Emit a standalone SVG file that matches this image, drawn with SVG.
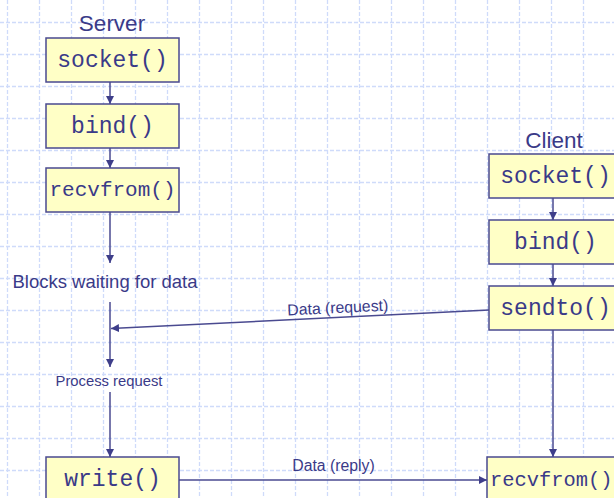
<svg xmlns="http://www.w3.org/2000/svg" width="614" height="498" viewBox="0 0 614 498">
  <style>
    .grid line { stroke: #cfdbfa; stroke-width: 1.3; stroke-dasharray: 4 2; }
    .box { fill: #ffffc6; stroke: #4a4a90; stroke-width: 1.5; }
    .code { font-family: "Liberation Mono", "Courier New", monospace; font-size: 23px; fill: #3a3a88; text-anchor: middle; }
    .title { font-family: "Liberation Sans", Arial, sans-serif; font-size: 22.5px; fill: #3a3a88; text-anchor: middle; }
    .note { font-family: "Liberation Sans", Arial, sans-serif; fill: #3a3a88; text-anchor: middle; }
    .conn line { stroke: #4a4a90; stroke-width: 1.5; fill: none; }
  </style>
  <defs>
    <marker id="arrow" viewBox="0 0 10 10" refX="10" refY="5" markerWidth="8" markerHeight="8" markerUnits="userSpaceOnUse" orient="auto">
      <path d="M0,0 L10,5 L0,10 Z" fill="#3e3e8a"/>
    </marker>
  </defs>

  <rect width="614" height="498" fill="#ffffff"/>

  <!-- background grid -->
  <g class="grid">
    <line x1="0" y1="22.5" x2="614" y2="22.5"/>
    <line x1="0" y1="54.5" x2="614" y2="54.5"/>
    <line x1="0" y1="86.5" x2="614" y2="86.5"/>
    <line x1="0" y1="118.5" x2="614" y2="118.5"/>
    <line x1="0" y1="150.5" x2="614" y2="150.5"/>
    <line x1="0" y1="182.5" x2="614" y2="182.5"/>
    <line x1="0" y1="214.5" x2="614" y2="214.5"/>
    <line x1="0" y1="246.5" x2="614" y2="246.5"/>
    <line x1="0" y1="278.5" x2="614" y2="278.5"/>
    <line x1="0" y1="310.5" x2="614" y2="310.5"/>
    <line x1="0" y1="342.5" x2="614" y2="342.5"/>
    <line x1="0" y1="374.5" x2="614" y2="374.5"/>
    <line x1="0" y1="406.5" x2="614" y2="406.5"/>
    <line x1="0" y1="438.5" x2="614" y2="438.5"/>
    <line x1="0" y1="470.5" x2="614" y2="470.5"/>
    <line x1="7.5" y1="0" x2="7.5" y2="498"/>
    <line x1="39.5" y1="0" x2="39.5" y2="498"/>
    <line x1="71.5" y1="0" x2="71.5" y2="498"/>
    <line x1="103.5" y1="0" x2="103.5" y2="498"/>
    <line x1="135.5" y1="0" x2="135.5" y2="498"/>
    <line x1="167.5" y1="0" x2="167.5" y2="498"/>
    <line x1="199.5" y1="0" x2="199.5" y2="498"/>
    <line x1="231.5" y1="0" x2="231.5" y2="498"/>
    <line x1="263.5" y1="0" x2="263.5" y2="498"/>
    <line x1="295.5" y1="0" x2="295.5" y2="498"/>
    <line x1="327.5" y1="0" x2="327.5" y2="498"/>
    <line x1="359.5" y1="0" x2="359.5" y2="498"/>
    <line x1="391.5" y1="0" x2="391.5" y2="498"/>
    <line x1="423.5" y1="0" x2="423.5" y2="498"/>
    <line x1="455.5" y1="0" x2="455.5" y2="498"/>
    <line x1="487.5" y1="0" x2="487.5" y2="498"/>
    <line x1="519.5" y1="0" x2="519.5" y2="498"/>
    <line x1="551.5" y1="0" x2="551.5" y2="498"/>
    <line x1="583.5" y1="0" x2="583.5" y2="498"/>
  </g>

  <!-- connectors -->
  <g class="conn">
    <line x1="110" y1="82" x2="110" y2="104" marker-end="url(#arrow)"/>
    <line x1="110" y1="148" x2="110" y2="168" marker-end="url(#arrow)"/>
    <line x1="110" y1="212" x2="110" y2="263" marker-end="url(#arrow)"/>
    <line x1="110" y1="302" x2="110" y2="367" marker-end="url(#arrow)"/>
    <line x1="110" y1="392" x2="110" y2="457" marker-end="url(#arrow)"/>
    <line x1="489" y1="310" x2="111" y2="328.5" marker-end="url(#arrow)"/>
    <line x1="179" y1="480" x2="487" y2="480" marker-end="url(#arrow)"/>
    <line x1="553" y1="198" x2="553" y2="220" marker-end="url(#arrow)"/>
    <line x1="553" y1="264" x2="553" y2="286" marker-end="url(#arrow)"/>
    <line x1="553" y1="330" x2="553" y2="457" marker-end="url(#arrow)"/>
  </g>

  <!-- server side -->
  <g id="server-title">
    <text class="title" x="112" y="31">Server</text>
  </g>
  <g id="server-socket">
    <rect class="box" x="46" y="38" width="133" height="44"/>
    <text class="code" x="112.5" y="67">socket()</text>
  </g>
  <g id="server-bind">
    <rect class="box" x="46" y="104" width="133" height="44"/>
    <text class="code" x="112.5" y="133">bind()</text>
  </g>
  <g id="server-recvfrom">
    <rect class="box" x="46" y="168" width="133" height="44"/>
    <text class="code" x="112.5" y="196" style="font-size:21px">recvfrom()</text>
  </g>
  <g id="server-blocks">
    <text class="note" x="105" y="288" style="font-size:18.5px">Blocks waiting for data</text>
  </g>
  <g id="server-process">
    <text class="note" x="109" y="386" style="font-size:14.8px">Process request</text>
  </g>
  <g id="server-write">
    <rect class="box" x="46" y="457" width="133" height="44"/>
    <text class="code" x="112.5" y="486">write()</text>
  </g>

  <!-- client side -->
  <g id="client-title">
    <text class="title" x="554" y="148">Client</text>
  </g>
  <g id="client-socket">
    <rect class="box" x="489" y="154" width="133" height="44"/>
    <text class="code" x="555.5" y="183">socket()</text>
  </g>
  <g id="client-bind">
    <rect class="box" x="489" y="220" width="133" height="44"/>
    <text class="code" x="555.5" y="249">bind()</text>
  </g>
  <g id="client-sendto">
    <rect class="box" x="489" y="286" width="133" height="44"/>
    <text class="code" x="555.5" y="315">sendto()</text>
  </g>
  <g id="client-recvfrom">
    <rect class="box" x="487" y="457" width="133" height="44"/>
    <text class="code" x="490" y="486" style="font-size:20.4px; text-anchor:start">recvfrom()</text>
  </g>

  <!-- message labels -->
  <g id="label-request">
    <text class="note" x="338" y="313" style="font-size:15.8px" transform="rotate(-2.7 338 313)">Data (request)</text>
  </g>
  <g id="label-reply">
    <text class="note" x="333.5" y="471" style="font-size:15.8px">Data (reply)</text>
  </g>
</svg>
